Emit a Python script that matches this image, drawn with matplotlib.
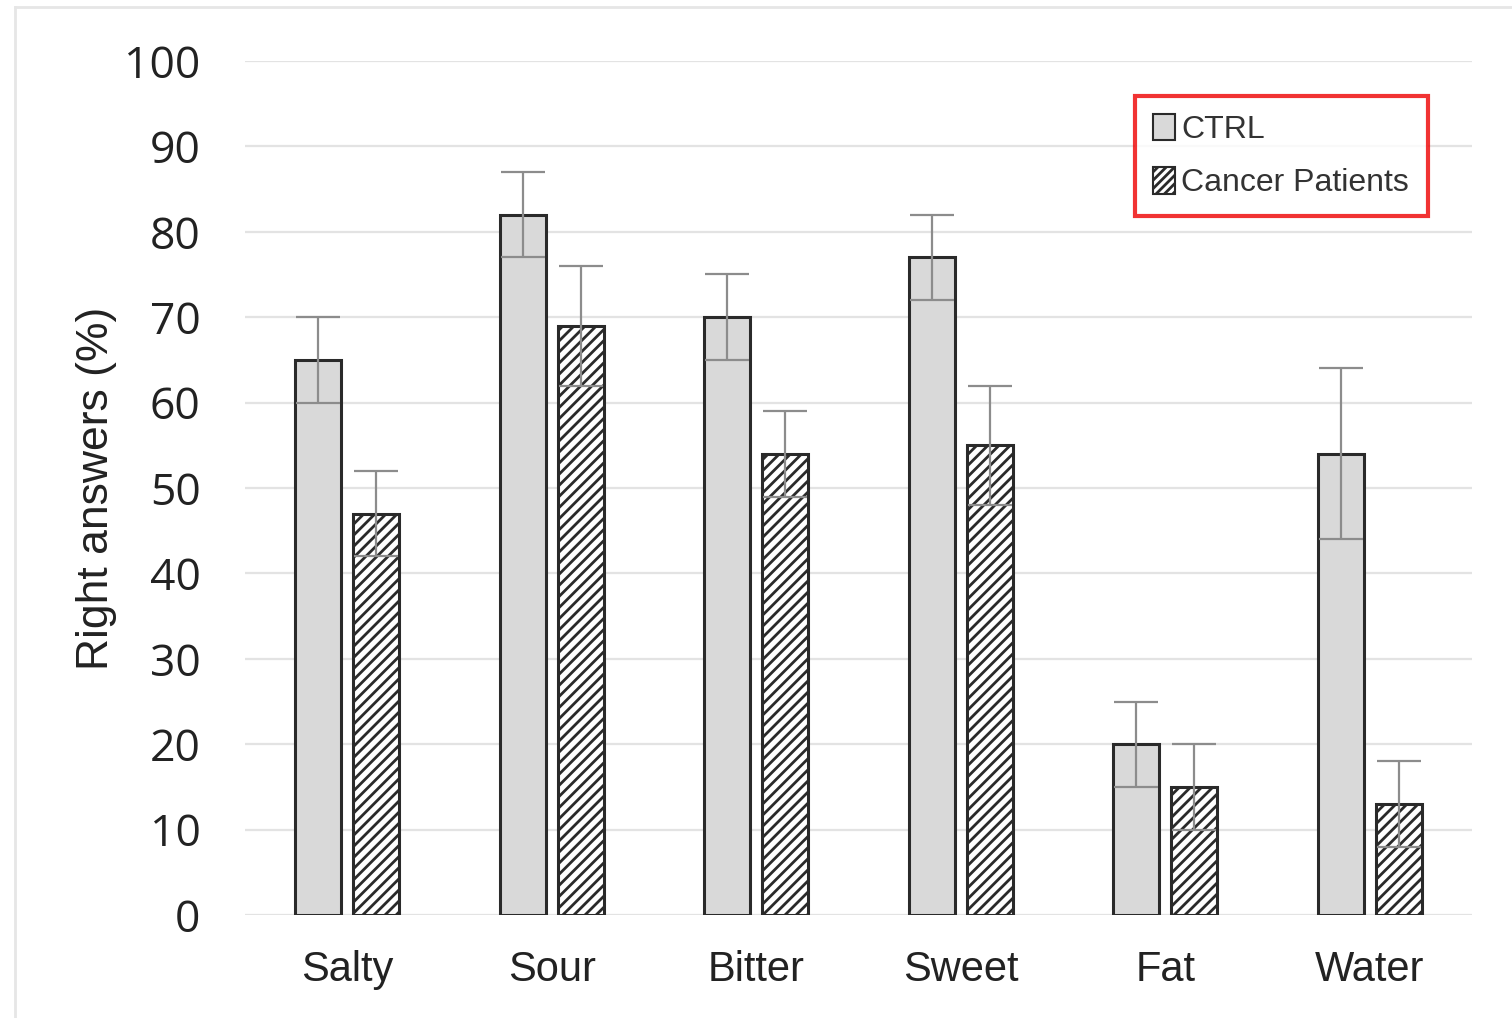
import matplotlib.pyplot as plt
import numpy as np
from matplotlib.lines import Line2D
from matplotlib.patches import Patch

plt.rcParams['hatch.linewidth'] = 2.0

# Taste recognition scores
tastes = ['Salty', 'Sour', 'Bitter', 'Sweet', 'Fat', 'Water']
ctrl = [65, 82, 70, 77, 20, 54]
ctrl_err = [5, 5, 5, 5, 5, 10]
cancer = [47, 69, 54, 55, 15, 13]
cancer_err = [5, 7, 5, 7, 5, 5]

fig = plt.figure(figsize=(15.12, 10.18), dpi=100)
ax = fig.add_axes([245 / 1512, 1 - 915 / 1018, 1227 / 1512, 854 / 1018])

x = np.arange(len(tastes))
w = 0.225
off = 0.142
edge = '#2a2a2a'
err_kw = dict(ecolor='#8c8c8c', elinewidth=1.6, capsize=16, capthick=1.6)

ax.bar(x - off, ctrl, w, color='#d9d9d9', edgecolor=edge, linewidth=2.2,
       yerr=ctrl_err, error_kw=err_kw, zorder=3)
ax.bar(x + off, cancer, w, color='white', edgecolor=edge, linewidth=2.2,
       hatch='///', yerr=cancer_err, error_kw=err_kw, zorder=3)

ax.set_xlim(-0.5, len(tastes) - 0.5)
ax.set_ylim(0, 100)
ax.set_yticks(range(0, 101, 10))
ax.set_xticks(x)
ax.set_xticklabels(tastes, family='Liberation Sans', fontsize=30, color='#222222')
for lbl in ax.get_yticklabels():
    lbl.set_family('Open Sans')
    lbl.set_fontsize(32)
    lbl.set_color('#222222')
ax.tick_params(length=0)
ax.tick_params(axis='x', pad=25)
ax.tick_params(axis='y', pad=32)
ax.grid(axis='y', color='#e3e3e3', linewidth=1.6, zorder=0)
for s in ax.spines.values():
    s.set_visible(False)

ax.set_ylabel('Right answers (%)', family='Liberation Sans', fontsize=32,
              color='#222222', labelpad=5)

handles = [Patch(facecolor='#d9d9d9', edgecolor=edge, linewidth=1.5),
           Patch(facecolor='white', edgecolor=edge, linewidth=1.5, hatch='////')]
leg = ax.legend(handles, ['CTRL', 'Cancer Patients'], loc='upper left',
                bbox_to_anchor=(1135 / 1512, 1 - 213 / 1018, 293 / 1512, 117 / 1018),
                bbox_transform=fig.transFigure, mode='expand',
                prop={'family': 'Liberation Sans', 'size': 23},
                frameon=True, fancybox=False, handlelength=0.7, handleheight=0.9,
                handletextpad=0.2, labelspacing=0.7, borderpad=0.55,
                borderaxespad=0)
leg.get_frame().set_edgecolor('#ee0000')
leg.get_frame().set_linewidth(3)
for t in leg.get_texts():
    t.set_color('#333333')

# light outer frame
fig.add_artist(Line2D([15 / 1512, 1], [1 - 7 / 1018] * 2, color='#e6e6e6',
                      linewidth=2, transform=fig.transFigure))
fig.add_artist(Line2D([15 / 1512] * 2, [0, 1 - 7 / 1018], color='#e6e6e6',
                      linewidth=2, transform=fig.transFigure))

fig.savefig('out.png', dpi=100)
